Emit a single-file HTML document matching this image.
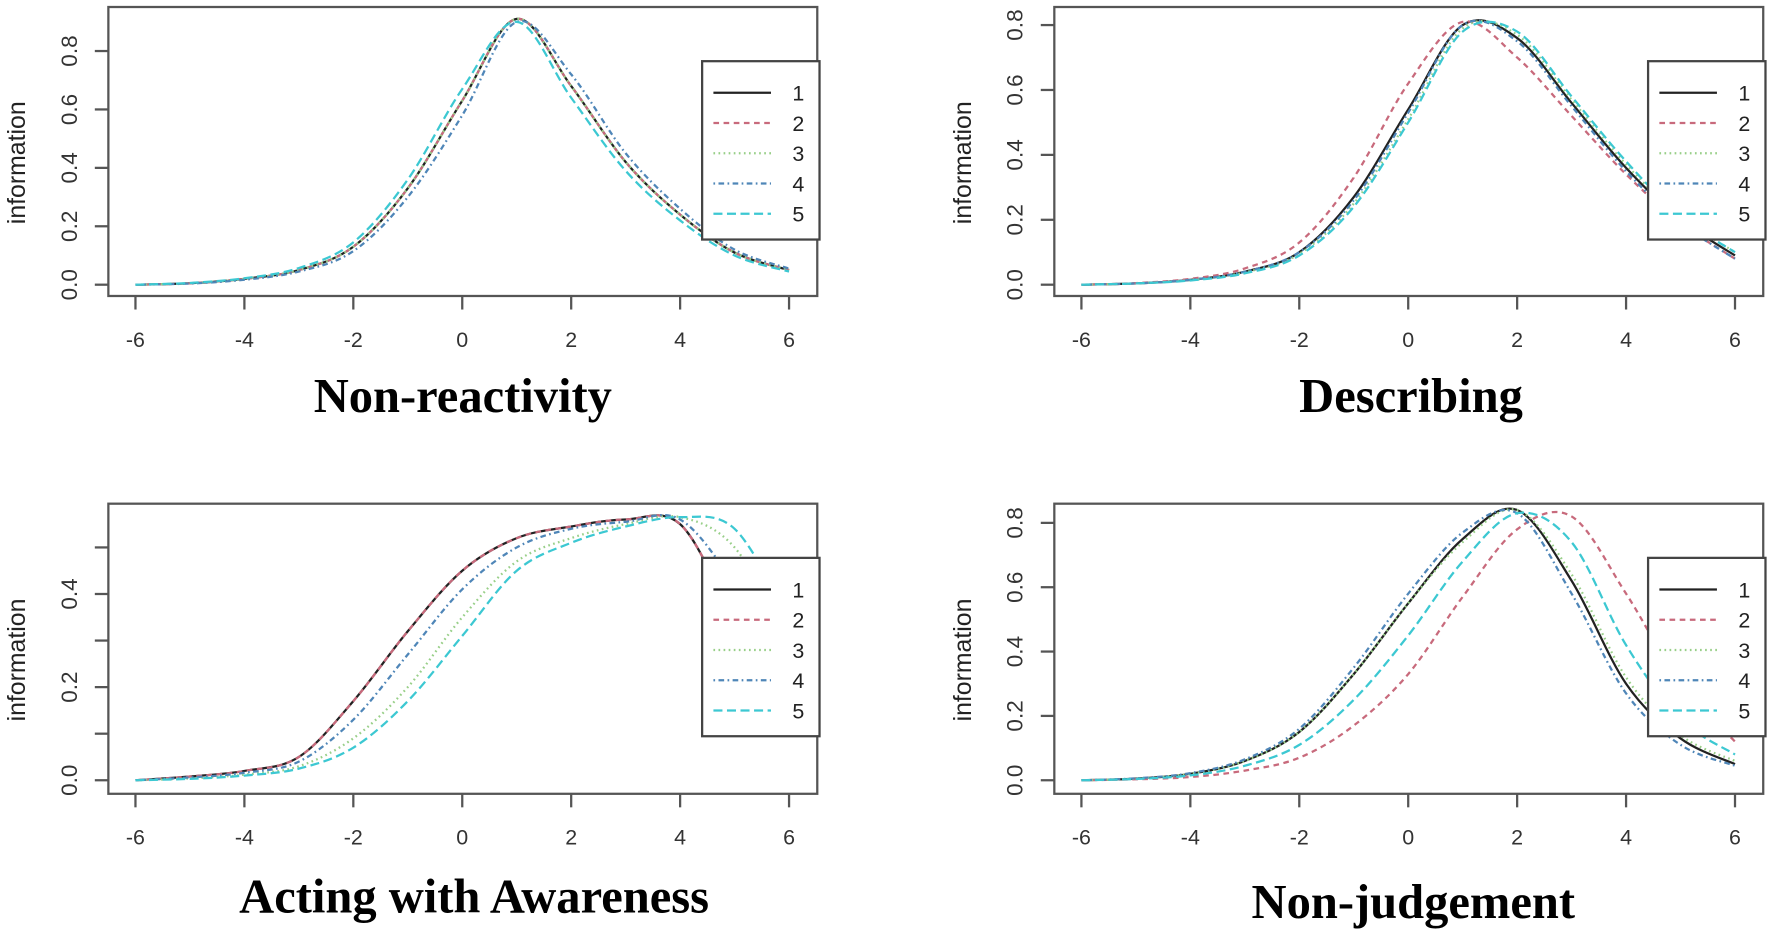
<!DOCTYPE html>
<html><head><meta charset="utf-8"><style>
html,body{margin:0;padding:0;background:#fff;}
svg{display:block;}
text{font-family:"Liberation Sans",sans-serif;}
.ttl{font-family:"Liberation Serif",serif;font-weight:bold;font-size:43px;fill:#000;}
</style></head><body>
<svg id="chart" width="1770" height="934" viewBox="0 0 1568 827" xmlns="http://www.w3.org/2000/svg"></svg>
<script>
const thetas=[-6,-5,-4,-3,-2,-1,0,1,2,3,4,5,6];
const xTicks=[-6,-4,-2,0,2,4,6];
const seriesLabels=["1","2","3","4","5"];
const titles=["Non-reactivity","Describing","Acting with Awareness","Non-judgement"];
const nrS1=[0,0.005,0.02,0.05,0.13,0.33,0.63,0.91,0.68,0.42,0.24,0.11,0.05];
const nrS2=[0,0.005,0.02,0.05,0.13,0.33,0.63,0.91,0.68,0.42,0.24,0.11,0.05];
const nrS3=[0,0.005,0.02,0.05,0.13,0.33,0.63,0.91,0.68,0.42,0.24,0.11,0.05];
const nrS4=[0,0.004,0.017,0.045,0.115,0.30,0.58,0.90,0.72,0.45,0.26,0.12,0.055];
const nrS5=[0,0.006,0.022,0.057,0.145,0.36,0.67,0.90,0.64,0.39,0.22,0.10,0.045];
const deS1=[0,0.004,0.015,0.04,0.10,0.27,0.54,0.80,0.76,0.56,0.36,0.20,0.09];
const deS2=[0,0.005,0.018,0.05,0.13,0.33,0.62,0.81,0.70,0.52,0.34,0.19,0.08];
const deS3=[0,0.004,0.014,0.038,0.095,0.25,0.51,0.79,0.77,0.57,0.37,0.21,0.10];
const deS4=[0,0.004,0.015,0.04,0.10,0.26,0.53,0.80,0.75,0.55,0.35,0.19,0.08];
const deS5=[0,0.004,0.013,0.035,0.09,0.24,0.50,0.78,0.78,0.58,0.38,0.21,0.10];
const awS1=[0,0.008,0.02,0.05,0.17,0.32,0.45,0.52,0.545,0.56,0.55,0.35,0.18];
const awS2=[0,0.008,0.02,0.05,0.17,0.32,0.45,0.52,0.545,0.56,0.55,0.35,0.18];
const awS3=[0,0.004,0.012,0.03,0.09,0.20,0.35,0.47,0.52,0.55,0.565,0.50,0.30];
const awS4=[0,0.006,0.016,0.04,0.13,0.27,0.41,0.50,0.54,0.555,0.56,0.42,0.22];
const awS5=[0,0.003,0.01,0.025,0.07,0.17,0.31,0.45,0.51,0.545,0.565,0.54,0.35];
const njS1=[0,0.005,0.02,0.06,0.15,0.33,0.55,0.75,0.84,0.62,0.30,0.13,0.05];
const njS2=[0,0.003,0.01,0.03,0.07,0.17,0.33,0.57,0.78,0.82,0.58,0.30,0.12];
const njS3=[0,0.005,0.02,0.06,0.15,0.33,0.55,0.74,0.84,0.64,0.32,0.14,0.06];
const njS4=[0,0.006,0.022,0.065,0.16,0.35,0.58,0.77,0.83,0.58,0.27,0.11,0.045];
const njS5=[0,0.004,0.015,0.045,0.11,0.25,0.45,0.68,0.83,0.74,0.42,0.19,0.08];
const nrTicks=[0,0.2,0.4,0.6,0.8];
const deTicks=[0,0.2,0.4,0.6,0.8];
const awTicks=[0,0.1,0.2,0.3,0.4,0.5];
const awTickLabels=["0.0","","0.2","","0.4",""];
const njTicks=[0,0.2,0.4,0.6,0.8];

const NS="http://www.w3.org/2000/svg";
const svg=document.getElementById('chart');
const colors=["#222","#c86a7c","#98cf88","#4f86b8","#3cc8d2"];
const dashes=["","5,4","1.5,3","1.5,3,5,3","8,4"];
function el(tag,attrs,parent){const e=document.createElementNS(NS,tag);for(const k in attrs)e.setAttribute(k,attrs[k]);(parent||svg).appendChild(e);return e;}

const panels=[
 {x0:96,x1:724,y0:6,y1:262,zeroY:252,unit:258.75,series:[nrS1,nrS2,nrS3,nrS4,nrS5],ticks:nrTicks,tl:null,lx:622,ly:54,ty:352,tx:410,name:"non-reactivity"},
 {x0:934,x1:1562,y0:6,y1:262,zeroY:252,unit:287.5,series:[deS1,deS2,deS3,deS4,deS5],ticks:deTicks,tl:null,lx:1460,ly:54,ty:352,tx:1250,name:"describing"},
 {x0:96,x1:724,y0:446,y1:703,zeroY:691,unit:412.5,series:[awS1,awS2,awS3,awS4,awS5],ticks:awTicks,tl:awTickLabels,lx:622,ly:494,ty:795,tx:420,name:"acting-with-awareness"},
 {x0:934,x1:1562,y0:446,y1:703,zeroY:691,unit:285,series:[njS1,njS2,njS3,njS4,njS5],ticks:njTicks,tl:null,lx:1460,ly:494,ty:800,tx:1252,name:"non-judgement"}
];

panels.forEach((p,pi)=>{
 const g=el('g',{});
 
 
 const xs=v=>p.x0+24+(v+6)*48.25;
 const ys=v=>p.zeroY-v*p.unit;
 const cid='clip'+pi;
 const cp=el('clipPath',{id:cid},g);el('rect',{x:p.x0,y:p.y0,width:p.x1-p.x0,height:p.y1-p.y0},cp);
 p.series.forEach((s,si)=>{
  const pts=thetas.map((t,i)=>[xs(t),ys(s[i])]);
  let d="M"+pts[0][0]+","+pts[0][1];
  for(let i=0;i<pts.length-1;i++){
   const p0=pts[Math.max(0,i-1)],p1=pts[i],p2=pts[i+1],p3=pts[Math.min(pts.length-1,i+2)];
   const c1=[p1[0]+(p2[0]-p0[0])/6,p1[1]+(p2[1]-p0[1])/6];
   const c2=[p2[0]-(p3[0]-p1[0])/6,p2[1]-(p3[1]-p1[1])/6];
   d+=` C${c1[0]},${c1[1]} ${c2[0]},${c2[1]} ${p2[0]},${p2[1]}`;
  }
  const path=el('path',{d:d,fill:'none',stroke:colors[si],'stroke-width':2,'stroke-dasharray':dashes[si],'clip-path':`url(#${cid})`},g);
  
  
 });
 el('rect',{x:p.x0,y:p.y0,width:p.x1-p.x0,height:p.y1-p.y0,fill:'none',stroke:'#555','stroke-width':2},g);
 xTicks.forEach(t=>{
  el('line',{x1:xs(t),x2:xs(t),y1:p.y1,y2:p.y1+12,stroke:'#555','stroke-width':2},g);
  const tx=el('text',{x:xs(t),y:p.y1+45,'text-anchor':'middle','font-size':19,fill:'#333'},g);
  tx.textContent=String(t);
  
  
 });
 p.ticks.forEach((t,i)=>{
  el('line',{x1:p.x0-12,x2:p.x0,y1:ys(t),y2:ys(t),stroke:'#555','stroke-width':2},g);
  const lab=p.tl?p.tl[i]:t.toFixed(1);
  if(lab){
   const tx=el('text',{x:0,y:0,transform:`translate(${p.x0-28},${ys(t)}) rotate(-90)`,'text-anchor':'middle','font-size':20,fill:'#333'},g);
   tx.textContent=lab;
   
   
  }
 });
 const xo=p.x0-96;
 const yl=el('text',{x:0,y:0,transform:`translate(${22+xo},${(p.y0+p.y1)/2+10}) rotate(-90)`,'text-anchor':'middle','font-size':22,fill:'#222'},g);
 yl.textContent="information";
 
 
 const tt=el('text',{x:p.tx,y:p.ty+13,'text-anchor':'middle','class':'ttl'},g);
 tt.textContent=titles[pi];
 
 
 const lg=el('g',{},g);
 
 
 el('rect',{x:p.lx,y:p.ly,width:p.x1-p.lx+2,height:158,fill:'#fff',stroke:'#444','stroke-width':2},lg);
 seriesLabels.forEach((lab,si)=>{
  const yy=p.ly+28+si*26.8;
  const ent=el('g',{},lg);
  
  
  el('line',{x1:p.lx+10,x2:p.lx+61,y1:yy,y2:yy,stroke:colors[si],'stroke-width':2,'stroke-dasharray':dashes[si]},ent);
  const t=el('text',{x:p.lx+80,y:yy+7,'font-size':19,fill:'#222'},ent);
  t.textContent=lab;
 });
});
</script>
</body></html>
